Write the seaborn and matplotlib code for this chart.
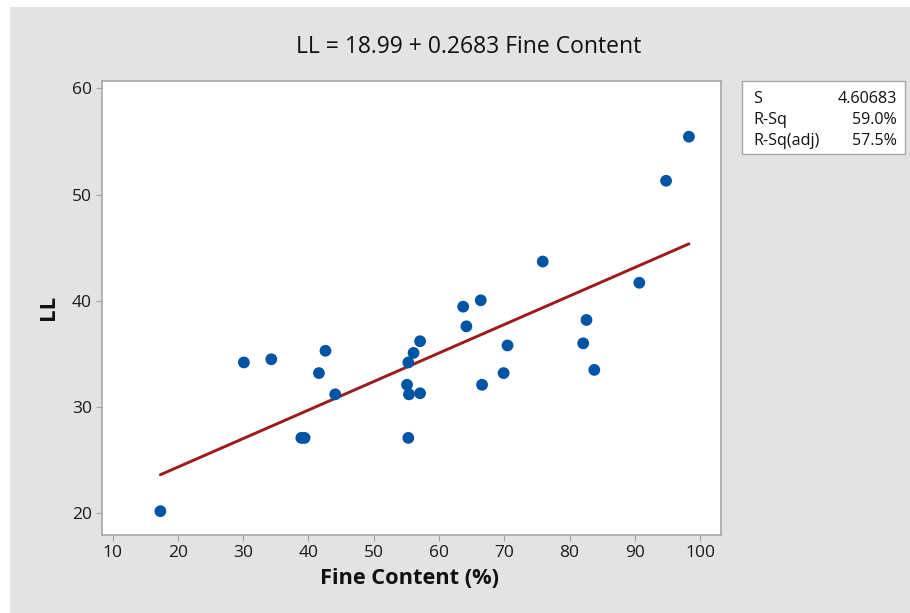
import numpy as np
import pandas as pd
import matplotlib
matplotlib.use("Agg")
import matplotlib.pyplot as plt
from matplotlib.patches import Rectangle
import seaborn as sns

# Observations: fine content (%) and liquid limit
fine_content = [17.3, 30.1, 34.3, 38.9, 39.4, 41.6, 42.6, 44.1, 55.1, 55.3,
                55.4, 55.3, 56.1, 57.1, 57.1, 63.7, 64.2, 66.4, 66.6, 69.9,
                70.5, 75.9, 82.1, 82.6, 83.8, 90.7, 94.8, 98.3]
liquid_limit = [20.2, 34.2, 34.5, 27.1, 27.1, 33.2, 35.3, 31.2, 32.1, 34.2,
                31.2, 27.1, 35.1, 36.2, 31.3, 39.45, 37.6, 40.05, 32.1, 33.2,
                35.8, 43.7, 36.0, 38.2, 33.5, 41.7, 51.3, 55.45]

# Fitted regression
intercept = 18.99
slope = 0.2683
stat_names = ["S", "R-Sq", "R-Sq(adj)"]
stat_values = ["4.60683", "59.0%", "57.5%"]

x_ticks = [10, 20, 30, 40, 50, 60, 70, 80, 90, 100]
y_ticks = [20, 30, 40, 50, 60]

sns.set_theme(style="white")
plt.rcParams["font.family"] = ["Open Sans", "DejaVu Sans"]

W, H = 910, 613
fig = plt.figure(figsize=(W / 100, H / 100), dpi=100)
fig.patch.set_facecolor("white")
fig.add_artist(Rectangle((10 / W, 0), 1 - 10 / W, 1 - 7 / H, transform=fig.transFigure,
                         facecolor="#e3e3e3", edgecolor="none", zorder=-10))

ax = fig.add_axes([101.7 / W, 1 - 535 / H, (720.7 - 101.7) / W, (535 - 80.7) / H])
ax.set_facecolor("white")

df = pd.DataFrame({"Fine Content (%)": fine_content, "LL": liquid_limit})

fit_x = np.array([min(fine_content), max(fine_content)])
fit_df = pd.DataFrame({"x": fit_x, "y": intercept + slope * fit_x})
sns.lineplot(data=fit_df, x="x", y="y", ax=ax, color="#9b1a1a", linewidth=2.1, zorder=2)
sns.scatterplot(data=df, x="Fine Content (%)", y="LL", ax=ax, color="#0054a6",
                s=72, edgecolor="none", zorder=3)

ax.set_xlim(8.31, 103.17)
ax.set_ylim(17.96, 60.72)
ax.set_xticks(x_ticks)
ax.set_yticks(y_ticks)
ax.tick_params(axis="both", which="major", direction="out", length=4, width=0.8,
               color="#a0a0a0", labelsize=12.5, labelcolor="#1a1a1a", pad=3,
               bottom=True, left=True)
for side, sp in ax.spines.items():
    sp.set_color("#a8a8a8")
    sp.set_linewidth(1.2)
    sp.set_visible(True)

ax.set_xlabel("")
ax.set_ylabel("")
fig.text(410 / W, 1 - 579 / H, "Fine Content (%)", ha="center", va="center",
         fontsize=15.7, fontweight="bold", color="#111111")
fig.text(48 / W, 1 - 307 / H, "LL", ha="center", va="center", rotation=90,
         fontsize=16, fontweight="bold", color="#111111")
fig.text(469 / W, 1 - 47 / H, f"LL = {intercept:.2f} + {slope:.4f} Fine Content",
         ha="center", va="center", fontsize=16.5, color="#111111")

# Statistics box
bx0, bx1, by0, by1 = 741.7, 905, 80.7, 154
fig.add_artist(Rectangle((bx0 / W, 1 - by1 / H), (bx1 - bx0) / W, (by1 - by0) / H,
                         transform=fig.transFigure, facecolor="white",
                         edgecolor="#a8a8a8", linewidth=1.0))
row_y = [99, 120, 141]
for name, val, ry in zip(stat_names, stat_values, row_y):
    fig.text(753 / W, 1 - ry / H, name, ha="left", va="center", fontsize=11.6, color="#111111")
    fig.text(897 / W, 1 - ry / H, val, ha="right", va="center", fontsize=11.6, color="#111111")

fig.savefig("out.png", dpi=100)
